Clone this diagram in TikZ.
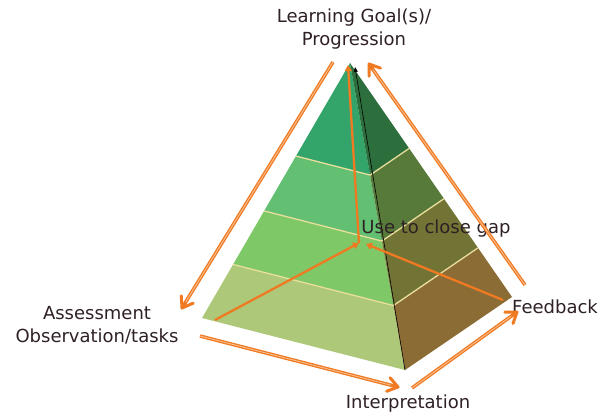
\documentclass[tikz,border=0pt]{standalone}
\usepackage{fontspec}
\setmainfont{DejaVu Sans}
\usetikzlibrary{arrows.meta,calc}
\definecolor{txt}{HTML}{2E2024}
\definecolor{org}{HTML}{F07A22}
\definecolor{orglt}{HTML}{F8BD8C}
\definecolor{lA}{HTML}{33A56A}
\definecolor{lB}{HTML}{63BF72}
\definecolor{lC}{HTML}{7FC868}
\definecolor{lD}{HTML}{ADC878}
\definecolor{rA}{HTML}{2C6E3C}
\definecolor{rB}{HTML}{577A3A}
\definecolor{rC}{HTML}{727436}
\definecolor{rD}{HTML}{8C6C35}
\definecolor{sep}{HTML}{E9DE9C}
\tikzset{
  lbl/.style={text=txt, font=\fontsize{18}{23}\selectfont, align=center, inner sep=0pt},
  outerline/.style={draw=org, line width=1.3pt, double=orglt, double distance=0.9pt, shorten >=2pt},
  outertip/.style={draw=org, line width=3pt, line cap=round, line join=round},
  innerarrow/.style={draw=org, line width=2.3pt, -{Triangle[length=6pt,width=7pt]}},
  sepline/.style={draw=sep, line width=1.3pt},
}
\newcommand\outarr[2]{%
  \draw[outerline] (#1) -- (#2);
  \draw[outertip] ($(#2)!6pt!(#1)$) -- (#2);
  \draw[outertip] ($($(#2)!10pt!(#1)$)!7pt!90:(#2)$) -- (#2) -- ($($(#2)!10pt!(#1)$)!7pt!-90:(#2)$);}
\begin{document}
\begin{tikzpicture}[x=1pt,y=-1pt]
\useasboundingbox (0,0) rectangle (600,418);
% pyramid corners
\coordinate (A) at (350,63);
\coordinate (L) at (202,318);
\coordinate (F) at (405,370);
\coordinate (R) at (512,297);
% band points
\foreach \t/\n in {0.365/1,0.58/2,0.79/3}{
  \coordinate (L\n) at ($(A)!\t!(L)$);
  \coordinate (F\n) at ($(A)!\t!(F)$);
  \coordinate (R\n) at ($(A)!\t!(R)$);
}
% left face bands
\fill[lA] (A) -- (L1) -- (F1) -- cycle;
\fill[lB] (L1) -- (L2) -- (F2) -- (F1) -- cycle;
\fill[lC] (L2) -- (L3) -- (F3) -- (F2) -- cycle;
\fill[lD] (L3) -- (L) -- (F) -- (F3) -- cycle;
% right face bands
\fill[rA] (A) -- (F1) -- (R1) -- cycle;
\fill[rB] (F1) -- (F2) -- (R2) -- (R1) -- cycle;
\fill[rC] (F2) -- (F3) -- (R3) -- (R2) -- cycle;
\fill[rD] (F3) -- (F) -- (R) -- (R3) -- cycle;
% separators
\foreach \n in {1,2,3}{
  \draw[sepline] (L\n) -- (F\n) -- (R\n);
}
% black front edge
\coordinate (Ftop) at (355,67);
\draw[black, line width=0.6pt, -{Triangle[length=5pt,width=4pt]}] (F) -- (Ftop);

% labels
\node[lbl] (goal) at (354,29) {Learning Goal(s)/\\Progression};
\node[lbl] (use) at (436,229) {Use to close gap};
\node[lbl] (fb) at (555,307) {Feedback};
\node[lbl] (interp) at (408,404) {Interpretation};
\node[lbl] (assess) at (97,325) {Assessment\\Observation/tasks};

% arrow end points
\coordinate (o1s) at (333,62);
\coordinate (o1e) at (182,308);
\coordinate (o2s) at (525,285);
\coordinate (o2e) at (369,64);
\coordinate (o3s) at (200,336);
\coordinate (o3e) at (398,387);
\coordinate (o4s) at (412,388);
\coordinate (o4e) at (517,312);
\coordinate (c) at (359,243);
\coordinate (c2) at (366,244);
\coordinate (i1s) at (215,320);
\coordinate (i2s) at (503,300);
\coordinate (top) at (348,65);

\outarr{o1s}{o1e}
\outarr{o2s}{o2e}
\outarr{o3s}{o3e}
\outarr{o4s}{o4e}
\draw[innerarrow] (i1s) -- (c);
\draw[innerarrow] (i2s) -- (c2);
\draw[innerarrow] (c) -- (top);
\end{tikzpicture}
\end{document}
